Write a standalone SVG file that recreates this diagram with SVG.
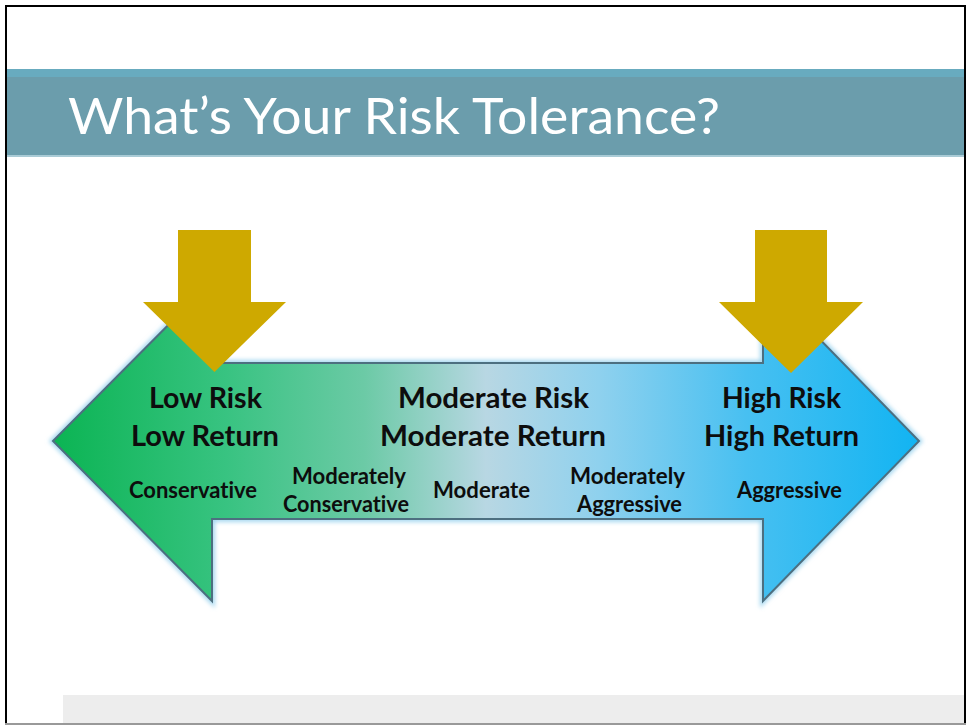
<svg xmlns="http://www.w3.org/2000/svg" width="967" height="725" viewBox="0 0 967 725">
  <style>
    text { font-variant-ligatures: none; }
    .title { font-family: Lato, "Open Sans", "Liberation Sans", sans-serif; font-size: 51px; fill: #ffffff; }
    .big { font-family: Lato, "Open Sans", "Liberation Sans", sans-serif; font-weight: bold; font-size: 29px; fill: #0d0d0d; text-anchor: middle; }
    .small { font-family: Lato, "Open Sans", "Liberation Sans", sans-serif; font-weight: bold; font-size: 22px; fill: #0d0d0d; text-anchor: middle; }
    .gold { fill: #cea900; }
  </style>
  <defs>
    <linearGradient id="scaleFill" x1="53" y1="0" x2="919" y2="0" gradientUnits="userSpaceOnUse">
      <stop offset="0" stop-color="#0bb453"/>
      <stop offset="0.2" stop-color="#38c381"/>
      <stop offset="0.36" stop-color="#6ccaa6"/>
      <stop offset="0.5" stop-color="#b8d7e3"/>
      <stop offset="0.63" stop-color="#8fd1ee"/>
      <stop offset="0.8" stop-color="#48c0f1"/>
      <stop offset="1" stop-color="#12b4f2"/>
    </linearGradient>
    <filter id="glow" x="-5%" y="-10%" width="110%" height="120%">
      <feGaussianBlur stdDeviation="2"/>
    </filter>
  </defs>

  <!-- slide background and footer band -->
  <rect x="0" y="0" width="967" height="725" fill="#ffffff"/>
  <rect x="63" y="695" width="902" height="29" fill="#ededed"/>

  <!-- title bar -->
  <g id="title">
    <rect x="7" y="69" width="958" height="88" fill="#6b9dac"/>
    <rect x="7" y="69" width="958" height="8" fill="#68abbf"/>
    <rect x="7" y="155" width="958" height="2" fill="#a9cbd6"/>
    <text class="title" x="68" y="134" textLength="652" lengthAdjust="spacingAndGlyphs">What’s Your Risk Tolerance?</text>
  </g>

  <!-- risk scale: double-headed arrow -->
  <g id="risk-scale">
    <path d="M53,441 L212,281 L212,363 L763,363 L763,281 L919,441 L763,601 L763,519 L212,519 L212,601 Z"
          fill="none" stroke="#a6d8f0" stroke-width="6" filter="url(#glow)"/>
    <path d="M53,441 L212,281 L212,363 L763,363 L763,281 L919,441 L763,601 L763,519 L212,519 L212,601 Z"
          fill="url(#scaleFill)" stroke="#4d6f80" stroke-width="2" stroke-linejoin="miter"/>
  </g>

  <!-- pointer arrows marking the two ends of the scale -->
  <g id="marker-low">
    <path class="gold" d="M178,230 H251 V302 H286 L214.5,372 L143,302 H178 Z"/>
  </g>
  <g id="marker-high">
    <path class="gold" d="M755,230 H827 V302 H863 L791,373 L719,302 H755 Z"/>
  </g>

  <!-- labels along the scale -->
  <g id="label-low">
    <text class="big" x="205.5" y="408" textLength="113" lengthAdjust="spacingAndGlyphs">Low Risk</text>
    <text class="big" x="205" y="446" textLength="148" lengthAdjust="spacingAndGlyphs">Low Return</text>
    <text class="small" x="193" y="498" textLength="128" lengthAdjust="spacingAndGlyphs">Conservative</text>
  </g>
  <g id="label-mod-conservative">
    <text class="small" x="349" y="484" textLength="114" lengthAdjust="spacingAndGlyphs">Moderately</text>
    <text class="small" x="346" y="512" textLength="126" lengthAdjust="spacingAndGlyphs">Conservative</text>
  </g>
  <g id="label-moderate">
    <text class="big" x="493.5" y="408" textLength="191" lengthAdjust="spacingAndGlyphs">Moderate Risk</text>
    <text class="big" x="493" y="446" textLength="226" lengthAdjust="spacingAndGlyphs">Moderate Return</text>
    <text class="small" x="481.5" y="498" textLength="97" lengthAdjust="spacingAndGlyphs">Moderate</text>
  </g>
  <g id="label-mod-aggressive">
    <text class="small" x="627.5" y="484" textLength="115" lengthAdjust="spacingAndGlyphs">Moderately</text>
    <text class="small" x="629.5" y="512" textLength="105" lengthAdjust="spacingAndGlyphs">Aggressive</text>
  </g>
  <g id="label-high">
    <text class="big" x="781.5" y="408" textLength="119" lengthAdjust="spacingAndGlyphs">High Risk</text>
    <text class="big" x="781.5" y="446" textLength="155" lengthAdjust="spacingAndGlyphs">High Return</text>
    <text class="small" x="789.5" y="498" textLength="105" lengthAdjust="spacingAndGlyphs">Aggressive</text>
  </g>

  <!-- slide border -->
  <g id="frame" fill="none">
    <line x1="6" y1="5" x2="6" y2="724" stroke="#000000" stroke-width="2"/>
    <line x1="5" y1="6" x2="966" y2="6" stroke="#000000" stroke-width="2"/>
    <line x1="965" y1="5" x2="965" y2="724" stroke="#000000" stroke-width="2"/>
    <line x1="5" y1="724" x2="966" y2="724" stroke="#999999" stroke-width="2"/>
  </g>
</svg>
